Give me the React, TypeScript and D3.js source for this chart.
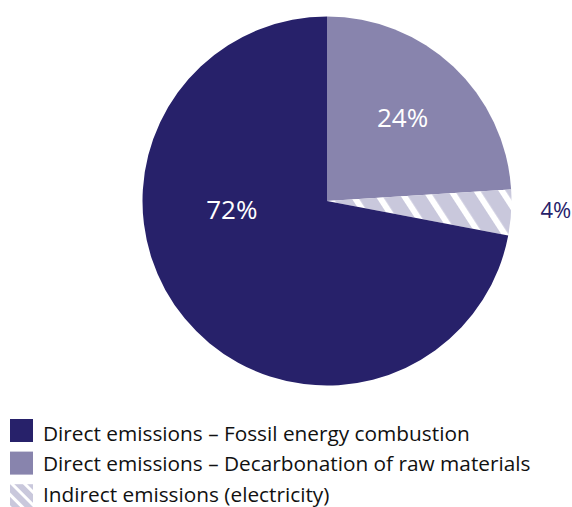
import React from "react";
import * as d3 from "d3";

// Share of emissions by source (percent)
const categories = [
  "Direct emissions – Decarbonation of raw materials",
  "Indirect emissions (electricity)",
  "Direct emissions – Fossil energy combustion",
];
const values = [24, 4, 72];
const valueLabels = ["24%", "4%", "72%"];

// Legend order as listed under the pie
const legendOrder = [2, 0, 1];

const WIDTH = 572;
const HEIGHT = 507;
const CX = 327;
const CY = 201;
const R = 184.5;

const NAVY = "#27216a";
const MID = "#8884ad";
const LIGHT = "#c9c8dc";

const fills = [MID, "url(#stripes)", NAVY];
const legendFills = [MID, "url(#stripesIcon)", NAVY];

// Label placement: polar position (angle in degrees clockwise from top, radius) relative to centre
const labelPolar = [
  { angle: 42, radius: 113, size: 26, color: "#ffffff" },
  { angle: 92, radius: 229, size: 22, color: NAVY },
  { angle: 265.5, radius: 95.5, size: 26, color: "#ffffff" },
];

const FONT = "'Open Sans', 'DejaVu Sans', sans-serif";

export default function App() {
  const pie = d3
    .pie<number>()
    .sort(null)
    .value((d) => d)
    .startAngle(0)
    .endAngle(2 * Math.PI);
  const arcs = pie(values);
  const arc = d3.arc<d3.PieArcDatum<number>>().innerRadius(0).outerRadius(R);

  return (
    <svg
      width={WIDTH}
      height={HEIGHT}
      style={{ position: "fixed", left: 0, top: 0, background: "#fff" }}
    >
      <defs>
        <pattern
          id="stripes"
          patternUnits="userSpaceOnUse"
          width={21.2}
          height={21.2}
          patternTransform="translate(352,190) rotate(-33)"
        >
          <rect x={0} y={0} width={21.2} height={21.2} fill={LIGHT} />
          <rect x={0} y={0} width={6} height={21.2} fill="#ffffff" />
        </pattern>
        <pattern
          id="stripesIcon"
          patternUnits="userSpaceOnUse"
          width={9}
          height={9}
          patternTransform="translate(10,484) rotate(-45)"
        >
          <rect x={0} y={0} width={9} height={9} fill={LIGHT} />
          <rect x={0} y={0} width={3} height={9} fill="#ffffff" />
        </pattern>
      </defs>
      <g transform={`translate(${CX},${CY})`}>
        {arcs.map((a, i) => (
          <path key={categories[i]} d={arc(a) ?? ""} fill={fills[i]} />
        ))}
        {arcs.map((a, i) => {
          const p = labelPolar[i];
          const t = (p.angle * Math.PI) / 180;
          const x = Math.sin(t) * p.radius;
          const y = -Math.cos(t) * p.radius;
          return (
            <text
              key={valueLabels[i]}
              x={x}
              y={y}
              textAnchor="middle"
              dominantBaseline="central"
              fill={p.color}
              fontFamily={FONT}
              fontSize={p.size}
            >
              {valueLabels[i]}
            </text>
          );
        })}
      </g>
      <g>
        {legendOrder.map((idx, row) => {
          const y = 419 + row * 32.6;
          const baseline = 440.5 + row * 30.5;
          return (
            <g key={categories[idx]}>
              <rect x={10} y={y} width={23} height={23} fill={legendFills[idx]} />
              <text
                x={43}
                y={baseline}
                fill="#111111"
                fontFamily={FONT}
                fontSize={20.8}
              >
                {categories[idx]}
              </text>
            </g>
          );
        })}
      </g>
    </svg>
  );
}
